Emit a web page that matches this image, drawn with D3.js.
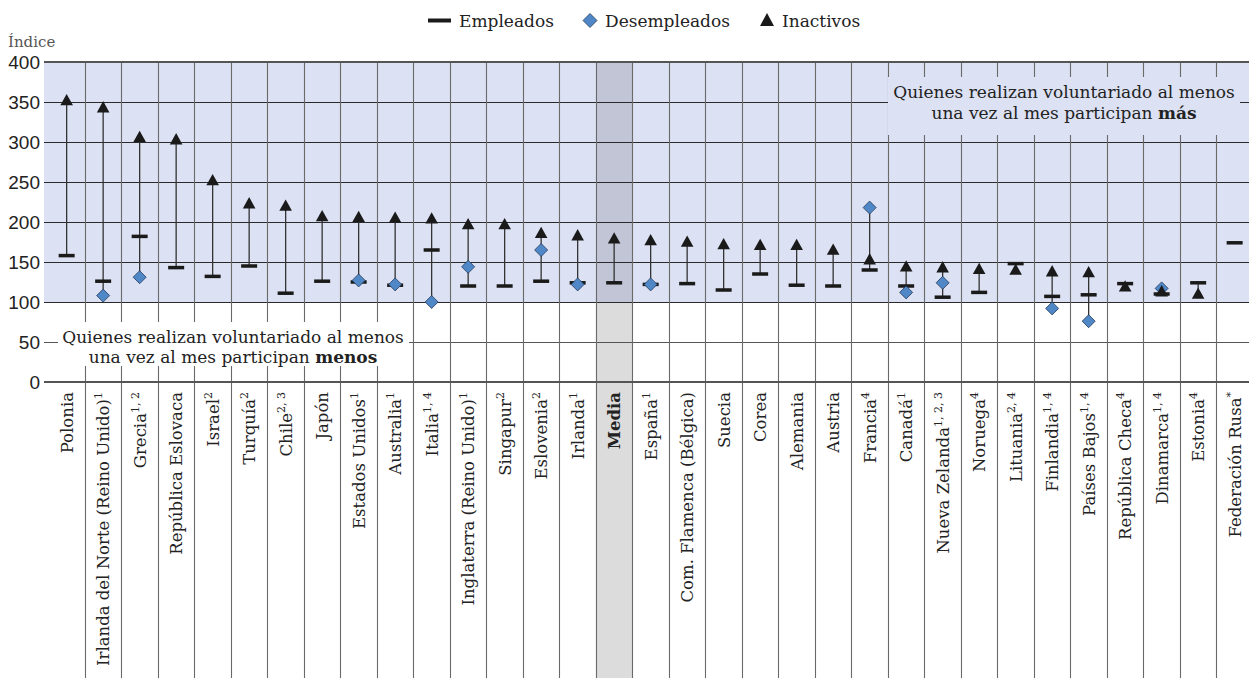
<!DOCTYPE html>
<html>
<head>
<meta charset="utf-8">
<script src="https://cdn.jsdelivr.net/npm/d3@7"></script>
<style>
  html, body { margin: 0; padding: 0; background: #fff; }
  svg { display: block; }
</style>
</head>
<body>
<svg id="chart" width="1249" height="678"></svg>
<script>
// ---------------- DATA ----------------
const categories = [
  "Polonia", "Irlanda del Norte (Reino Unido)", "Grecia", "República Eslovaca", "Israel",
  "Turquía", "Chile", "Japón", "Estados Unidos", "Australia", "Italia",
  "Inglaterra (Reino Unido)", "Singapur", "Eslovenia", "Irlanda", "Media", "España",
  "Com. Flamenca (Bélgica)", "Suecia", "Corea", "Alemania", "Austria", "Francia",
  "Canadá", "Nueva Zelanda", "Noruega", "Lituania", "Finlandia", "Países Bajos",
  "República Checa", "Dinamarca", "Estonia", "Federación Rusa"
];
const notes = [
  "", "1", "1, 2", "", "2", "2", "2, 3", "", "1", "1", "1, 4",
  "1", "2", "2", "1", "", "1",
  "", "", "", "", "", "4",
  "1", "1, 2, 3", "4", "2, 4", "1, 4", "1, 4",
  "4", "1, 4", "4", "*"
];
const empleados = [
  158, 126, 182, 143, 132, 145, 111, 126, 125, 121, 165,
  120, 120, 126, 124, 124, 122,
  123, 115, 135, 121, 120, 140,
  120, 106, 112, 148, 107, 109,
  123, 110, 124, 174
];
const desempleados = [
  null, 108, 131, null, null, null, null, null, 127, 122, 100,
  144, null, 165, 122, null, 122,
  null, null, null, null, null, 218,
  112, 124, null, null, 92, 76,
  null, 117, null, null
];
const inactivos = [
  352, 343, 306, 303, 252, 223, 220, 207, 206, 205, 204,
  197, 197, 186, 183, 179, 177,
  175, 172, 171, 171, 165, 153,
  144, 143, 141, 140, 138, 137,
  119, 113, 110, null
];
const yTicks = [0, 50, 100, 150, 200, 250, 300, 350, 400];
const legendLabels = ["Empleados", "Desempleados", "Inactivos"];
const highlightCategory = "Media";

// ---------------- LAYOUT ----------------
const W = 1249, H = 678;
const plotLeft = 44, plotRight = 1249, plotTop = 62;
const zeroY = 382;
const serif = "'DejaVu Serif', serif";
const sans = "'Liberation Sans', Arial, sans-serif";
const blueBg = "#dce1f3";

const svg = d3.select("#chart");

const x = d3.scaleBand().domain(categories).range([48.4, 48.4 + 36.5 * categories.length]).padding(0);
const y = d3.scaleLinear().domain([0, 400]).range([zeroY, plotTop]);

// backgrounds
svg.append("rect").attr("x", plotLeft).attr("y", y(400))
  .attr("width", plotRight - plotLeft).attr("height", y(100) - y(400))
  .attr("fill", blueBg);
svg.append("rect").attr("x", x(highlightCategory)).attr("y", y(400))
  .attr("width", x.bandwidth()).attr("height", y(100) - y(400))
  .attr("fill", "#c1c5d5");
svg.append("rect").attr("x", x(highlightCategory)).attr("y", y(100))
  .attr("width", x.bandwidth()).attr("height", H - y(100))
  .attr("fill", "#dcdcdc");

// horizontal gridlines
svg.append("g").selectAll("line").data(yTicks.filter(t => t !== 400 && t !== 0)).join("line")
  .attr("x1", plotLeft).attr("x2", plotRight)
  .attr("y1", d => y(d) + 0.5).attr("y2", d => y(d) + 0.5)
  .attr("stroke", d => d >= 100 ? "#2a2a2a" : "#555")
  .attr("stroke-width", 1);

// vertical gridlines (column separators)
svg.append("g").selectAll("line").data(categories.slice(1)).join("line")
  .attr("x1", d => Math.round(x(d)) + 0.5).attr("x2", d => Math.round(x(d)) + 0.5)
  .attr("y1", y(400)).attr("y2", H)
  .attr("stroke", "#6a6a6a").attr("stroke-width", 1.1);

// annotation boxes
const boxUp = svg.append("g");
boxUp.append("rect").attr("x", 888).attr("y", 77).attr("width", 352).attr("height", 58).attr("fill", blueBg);
const tUp = boxUp.append("text").attr("text-anchor", "middle").attr("font-family", serif)
  .attr("font-size", 17).attr("fill", "#222");
tUp.append("tspan").attr("x", 1064).attr("y", 98).text("Quienes realizan voluntariado al menos");
const tUp2 = tUp.append("tspan").attr("x", 1064).attr("y", 119);
tUp2.append("tspan").text("una vez al mes participan ");
tUp2.append("tspan").attr("font-weight", "bold").text("más");

const boxLo = svg.append("g");
boxLo.append("rect").attr("x", 58).attr("y", 322).attr("width", 351).attr("height", 44).attr("fill", "#fff");
const tLo = boxLo.append("text").attr("text-anchor", "middle").attr("font-family", serif)
  .attr("font-size", 17).attr("fill", "#222");
tLo.append("tspan").attr("x", 233).attr("y", 343).text("Quienes realizan voluntariado al menos");
const tLo2 = tLo.append("tspan").attr("x", 233).attr("y", 363);
tLo2.append("tspan").text("una vez al mes participan ");
tLo2.append("tspan").attr("font-weight", "bold").text("menos");

// top and zero lines
svg.append("line").attr("x1", plotLeft).attr("x2", plotRight).attr("y1", y(400)).attr("y2", y(400))
  .attr("stroke", "#555").attr("stroke-width", 2);
svg.append("line").attr("x1", plotLeft).attr("x2", plotRight).attr("y1", y(0)).attr("y2", y(0))
  .attr("stroke", "#555").attr("stroke-width", 2);

// y axis labels
const yAxis = svg.append("g").attr("transform", `translate(${plotLeft},0)`)
  .call(d3.axisLeft(y).tickValues(yTicks).tickSize(0).tickPadding(4));
yAxis.select(".domain").remove();
yAxis.selectAll("text").attr("font-family", sans).attr("font-size", 19).attr("fill", "#222");

svg.append("text").attr("x", 8).attr("y", 47).attr("font-family", serif).attr("font-size", 15)
  .attr("fill", "#555").text("Índice");

// x labels
const cx = d => x(d) + x.bandwidth() / 2;
const labels = svg.append("g").selectAll("text").data(categories).join("text")
  .attr("transform", d => `translate(${cx(d) + 6},392) rotate(-90)`)
  .attr("text-anchor", "end")
  .attr("font-family", serif).attr("font-size", 16.5).attr("fill", "#222")
  .attr("font-weight", d => d === highlightCategory ? "bold" : "normal");
labels.append("tspan").text(d => d);
labels.each(function(d, i) {
  if (notes[i]) {
    d3.select(this).append("tspan").attr("dy", -7).attr("font-size", 11).text(notes[i]);
  }
});

// marks
const rows = categories.map((c, i) => ({c, e: empleados[i], u: desempleados[i], n: inactivos[i]}));
const marks = svg.append("g");
rows.forEach(r => {
  const vals = [r.e, r.u, r.n].filter(v => v != null);
  const lo = d3.min(vals), hi = d3.max(vals);
  if (hi > lo) {
    marks.append("line").attr("x1", cx(r.c)).attr("x2", cx(r.c))
      .attr("y1", y(lo)).attr("y2", y(hi)).attr("stroke", "#333").attr("stroke-width", 1.3);
  }
});
marks.selectAll("rect.emp").data(rows.filter(r => r.e != null)).join("rect")
  .attr("class", "emp")
  .attr("x", d => cx(d.c) - 8).attr("y", d => y(d.e) - 1.75)
  .attr("width", 16).attr("height", 3.5).attr("fill", "#1a1a1a");
marks.selectAll("path.une").data(rows.filter(r => r.u != null)).join("path")
  .attr("class", "une")
  .attr("d", d => { const X = cx(d.c), Y = y(d.u), s = 6.5;
    return `M${X},${Y - s}L${X + s},${Y}L${X},${Y + s}L${X - s},${Y}Z`; })
  .attr("fill", "#4f87c7").attr("stroke", "#263a5a").attr("stroke-width", 0.8);
marks.selectAll("path.ina").data(rows.filter(r => r.n != null)).join("path")
  .attr("class", "ina")
  .attr("d", d => { const X = cx(d.c), Y = y(d.n);
    return `M${X},${Y - 6.5}L${X + 6.3},${Y + 4.8}L${X - 6.3},${Y + 4.8}Z`; })
  .attr("fill", "#1a1a1a");

// legend
const lg = svg.append("g").attr("font-family", serif).attr("font-size", 17).attr("fill", "#222");
lg.append("rect").attr("x", 428).attr("y", 18.5).attr("width", 23).attr("height", 4).attr("fill", "#1a1a1a");
lg.append("text").attr("x", 459).attr("y", 27).text(legendLabels[0]);
lg.append("path").attr("d", "M590,13.5L597,20.5L590,27.5L583,20.5Z")
  .attr("fill", "#4f87c7").attr("stroke", "#263a5a").attr("stroke-width", 0.8);
lg.append("text").attr("x", 605).attr("y", 27).text(legendLabels[1]);
lg.append("path").attr("d", "M767,13L774,26L760,26Z").attr("fill", "#1a1a1a");
lg.append("text").attr("x", 782).attr("y", 27).text(legendLabels[2]);
</script>
</body>
</html>
